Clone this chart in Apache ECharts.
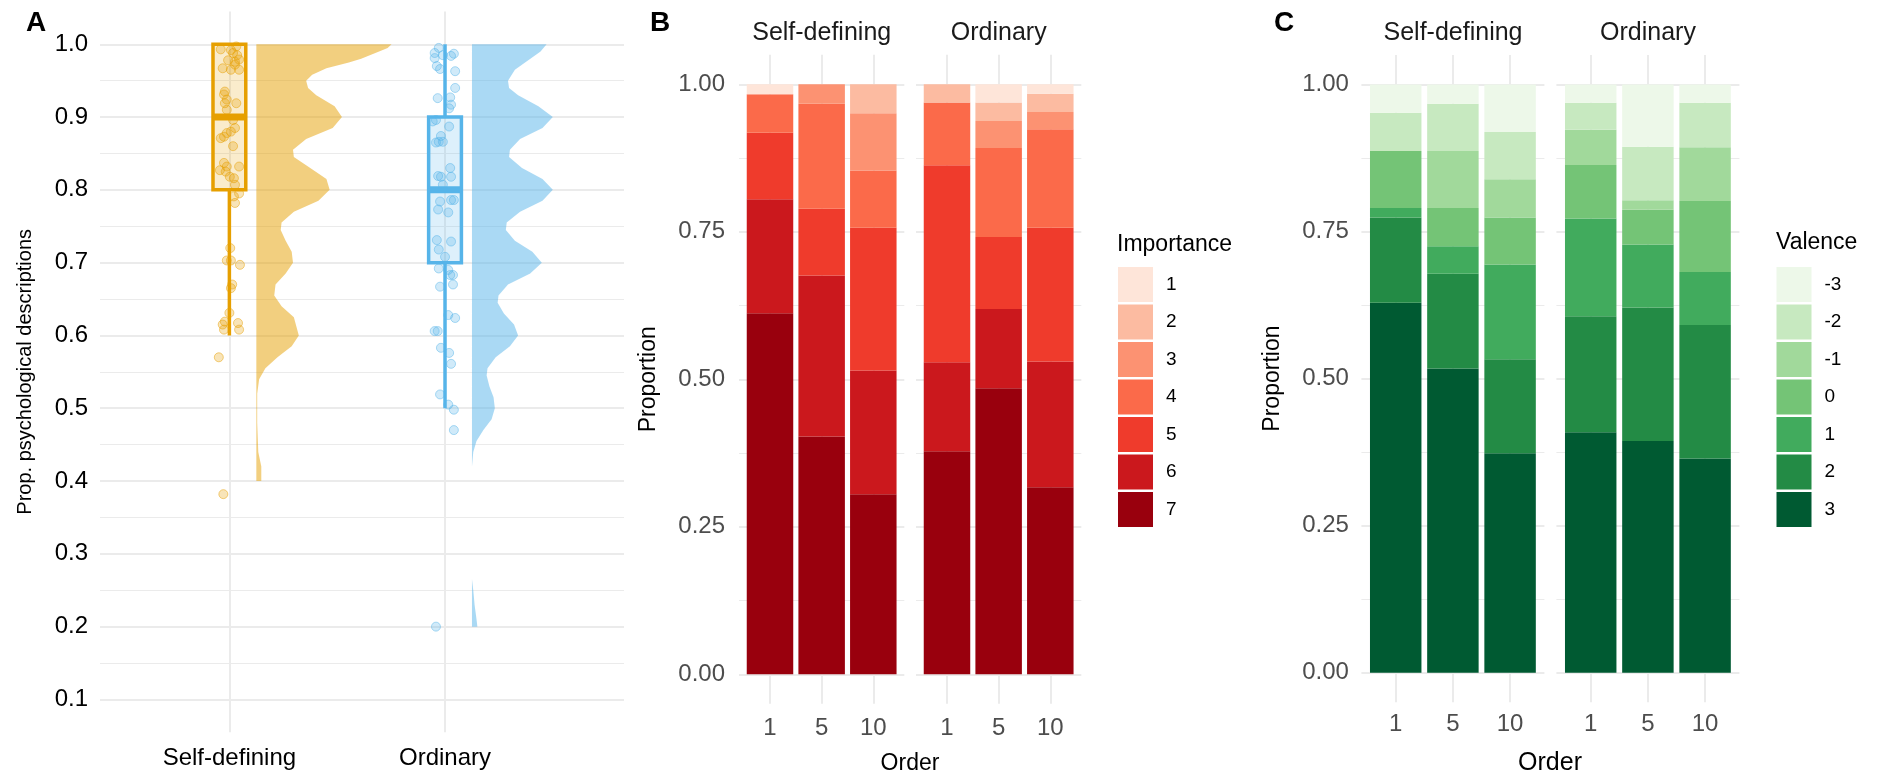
<!DOCTYPE html>
<html>
<head>
<meta charset="utf-8">
<script src="https://cdn.jsdelivr.net/npm/echarts@6/dist/echarts.min.js"></script>
<style>
html,body{margin:0;padding:0;background:#ffffff;}
#chart{width:1877px;height:779px;}
</style>
</head>
<body>
<div id="chart"></div>
<script>
// ---------------- DATA ----------------
const groups = ['Self-defining', 'Ordinary'];
const orderLabels = ['1', '5', '10'];
const propTicks = [0.1, 0.2, 0.3, 0.4, 0.5, 0.6, 0.7, 0.8, 0.9, 1.0];
const propMinorTicks = [0.15, 0.25, 0.35, 0.45, 0.55, 0.65, 0.75, 0.85, 0.95];
const shareTicks = [0, 0.25, 0.5, 0.75, 1];
const shareMinorTicks = [0.125, 0.375, 0.625, 0.875];

// box statistics: [min, q1, median, q3, max]
const selfDefBox = [0.6, 0.8, 0.9, 1.0, 1.0];
const ordinaryBox = [0.5, 0.7, 0.8, 0.9, 1.0];

// jittered observations: [jitter offset, proportion]
const selfDefPoints = [
  [-0.040,0.993],[0.007,0.992],[0.032,0.997],[0.017,0.988],[0.036,0.985],[-0.006,0.978],
  [0.026,0.976],[0.045,0.979],[-0.031,0.967],[0.007,0.965],[0.026,0.972],[0.045,0.965],
  [-0.021,0.935],[-0.025,0.931],[-0.012,0.924],[-0.021,0.919],[0.032,0.919],[-0.012,0.910],
  [0.026,0.885],[0.017,0.896],[-0.025,0.873],[-0.040,0.871],[-0.012,0.878],[0.017,0.860],
  [0.007,0.880],[-0.025,0.837],[-0.012,0.832],[-0.017,0.825],[-0.044,0.827],[0.045,0.832],
  [0.002,0.818],[0.021,0.816],[0.026,0.807],[0.045,0.795],[0.021,0.791],[0.026,0.782],
  [0.004,0.720],[-0.012,0.703],[0.007,0.703],[0.049,0.697],[0.013,0.670],[0.007,0.665],
  [0.000,0.631],[-0.021,0.619],[-0.031,0.615],[-0.025,0.608],[0.040,0.617],[0.045,0.608],
  [-0.049,0.570],[-0.028,0.382]
];
const ordinaryPoints = [
  [-0.048,0.988],[-0.029,0.995],[-0.010,0.985],[0.028,0.984],[0.041,0.987],[-0.048,0.981],
  [-0.038,0.970],[-0.023,0.966],[0.047,0.963],[0.047,0.940],[-0.034,0.926],[0.024,0.927],
  [0.028,0.917],[0.019,0.912],[-0.042,0.896],[-0.057,0.894],[0.019,0.887],[-0.019,0.874],
  [-0.029,0.866],[-0.010,0.866],[-0.042,0.865],[0.024,0.830],[-0.032,0.819],[-0.019,0.818],
  [0.028,0.818],[-0.010,0.807],[-0.023,0.784],[0.028,0.786],[0.041,0.786],[-0.032,0.773],
  [0.015,0.769],[-0.038,0.731],[-0.029,0.718],[0.028,0.729],[0.000,0.708],[-0.029,0.692],
  [0.015,0.690],[0.024,0.683],[0.037,0.683],[0.037,0.670],[-0.023,0.667],[0.015,0.628],
  [0.047,0.624],[-0.048,0.606],[-0.034,0.606],[-0.019,0.583],[0.019,0.576],[0.028,0.561],
  [-0.023,0.519],[0.015,0.505],[0.041,0.498],[0.041,0.470],[-0.042,0.200]
];

// half-violin densities: [proportion, density]
const selfDefDensity = [
  [1.000,6.27],[0.995,6.09],[0.988,5.52],[0.980,4.86],[0.975,4.29],[0.967,3.25],[0.958,2.59],
  [0.950,2.31],[0.940,2.40],[0.930,2.78],[0.915,3.63],[0.900,3.97],[0.885,3.54],[0.870,2.31],
  [0.855,1.70],[0.845,1.74],[0.830,2.50],[0.815,3.25],[0.800,3.40],[0.785,2.88],[0.770,1.74],
  [0.755,1.17],[0.745,1.13],[0.730,1.36],[0.715,1.64],[0.700,1.70],[0.685,1.36],[0.670,0.89],
  [0.655,0.83],[0.640,1.17],[0.625,1.74],[0.600,1.97],[0.585,1.64],[0.570,0.98],[0.555,0.42],
  [0.540,0.13],[0.520,0.04],[0.480,0.04],[0.440,0.09],[0.420,0.23],[0.400,0.23]
];
const ordinaryDensity = [
  [1.000,3.46],[0.990,3.18],[0.978,2.61],[0.965,1.99],[0.950,1.67],[0.940,1.72],[0.930,2.14],
  [0.915,3.08],[0.900,3.75],[0.885,3.27],[0.870,2.23],[0.855,1.76],[0.845,1.72],[0.830,2.32],
  [0.815,3.27],[0.800,3.75],[0.785,3.27],[0.770,2.23],[0.755,1.61],[0.745,1.57],[0.730,1.99],
  [0.715,2.80],[0.700,3.24],[0.685,2.70],[0.670,1.67],[0.655,1.23],[0.645,1.19],[0.630,1.48],
  [0.615,1.95],[0.600,2.14],[0.585,1.76],[0.570,1.10],[0.555,0.72],[0.545,0.68],[0.530,0.81],
  [0.515,1.00],[0.500,1.06],[0.485,0.91],[0.470,0.53],[0.455,0.21],[0.440,0.06],[0.420,0.00]
];
const ordinaryDensityLow = [
  [0.265,0.00],[0.250,0.06],[0.230,0.12],[0.210,0.21],[0.200,0.25]
];

// panel B: importance proportions, bars = [SD 1, SD 5, SD 10, Ord 1, Ord 5, Ord 10]
const importanceLevels = ['1', '2', '3', '4', '5', '6', '7'];
const importance1 = [0.017, 0.000, 0.000, 0.000, 0.031, 0.016];
const importance2 = [0.000, 0.000, 0.049, 0.031, 0.031, 0.031];
const importance3 = [0.000, 0.033, 0.097, 0.000, 0.046, 0.029];
const importance4 = [0.065, 0.178, 0.097, 0.106, 0.151, 0.167];
const importance5 = [0.113, 0.113, 0.242, 0.334, 0.122, 0.227];
const importance6 = [0.193, 0.273, 0.210, 0.151, 0.134, 0.213];
const importance7 = [0.612, 0.403, 0.305, 0.378, 0.485, 0.317];

// panel C: valence proportions
const valenceLevels = ['-3', '-2', '-1', '0', '1', '2', '3'];
const valenceM3 = [0.048, 0.033, 0.081, 0.031, 0.106, 0.031];
const valenceM2 = [0.065, 0.080, 0.080, 0.046, 0.091, 0.076];
const valenceM1 = [0.000, 0.097, 0.065, 0.060, 0.016, 0.091];
const valence0  = [0.097, 0.065, 0.080, 0.091, 0.059, 0.121];
const valenceP1 = [0.016, 0.047, 0.161, 0.166, 0.107, 0.090];
const valenceP2 = [0.145, 0.161, 0.160, 0.197, 0.227, 0.227];
const valenceP3 = [0.629, 0.517, 0.373, 0.409, 0.394, 0.364];

// ---------------- STYLE ----------------
const FONT = '"Liberation Sans", Arial, Helvetica, sans-serif';
const GRID_COLOR = '#EBEBEB';
const ORANGE = '#E69F00';
const BLUE = '#56B4E9';
const impColors = ['#FEE5D9','#FCBBA1','#FC9272','#FB6A4A','#EF3B2C','#CB181D','#99000D'];
const valColors = ['#EDF8E9','#C7E9C0','#A1D99B','#74C476','#41AB5D','#238B45','#005A32'];
const BAR_HALF = 0.45;
const BOX_HALF = 0.076;
const VIOLIN_OFFSET = 0.125;
const DENS_UNIT = 0.1;

function rgba(hex, a) {
  const n = parseInt(hex.slice(1), 16);
  return 'rgba(' + ((n >> 16) & 255) + ',' + ((n >> 8) & 255) + ',' + (n & 255) + ',' + a + ')';
}

const chart = echarts.init(document.getElementById('chart'), null, {renderer: 'canvas', width: 1877, height: 779});

const grids = [
  {left: 100, top: 11.5, width: 524, height: 720.7},
  {left: 739, top: 54.8, width: 165.3, height: 649},
  {left: 916, top: 54.8, width: 165.3, height: 649},
  {left: 1361.4, top: 55, width: 183, height: 647.2},
  {left: 1556.4, top: 55, width: 183, height: 647.2}
];

function xAxisDef(gi, min, max, vals, labels, fs, color, margin) {
  return {
    type: 'value', gridIndex: gi, min: min, max: max,
    axisLine: {show: false},
    axisTick: {show: false, customValues: vals},
    axisLabel: {customValues: vals, fontSize: fs, color: color, fontFamily: FONT, margin: margin,
      formatter: v => labels[Math.round(v) - 1]},
    splitLine: {show: true, lineStyle: {color: GRID_COLOR, width: 2}}
  };
}
function yAxisDef(gi, min, max, vals, opts) {
  opts = opts || {};
  const ax = {
    type: 'value', gridIndex: gi, min: min, max: max, position: 'left',
    axisLine: {show: false},
    axisTick: {show: false, customValues: vals},
    axisLabel: {show: !!opts.labels, customValues: vals, fontSize: opts.fs || 24, color: opts.color || '#4D4D4D',
      fontFamily: FONT, margin: opts.margin || 12, formatter: v => v.toFixed(opts.digits || 2)},
    splitLine: {show: true, lineStyle: {color: GRID_COLOR, width: opts.minor ? 1 : 2}}
  };
  if (opts.name) {
    ax.name = opts.name; ax.nameLocation = 'middle'; ax.nameGap = opts.nameGap;
    ax.nameTextStyle = {fontSize: opts.nameFs, color: '#000', fontFamily: FONT};
  }
  return ax;
}

const xAxes = [
  xAxisDef(0, 0.4, 2.83, [1, 2], groups, 24, '#000', 14),
  xAxisDef(1, 0.4, 3.6, [1, 2, 3], orderLabels, 24, '#4D4D4D', 12.5),
  xAxisDef(2, 0.4, 3.6, [1, 2, 3], orderLabels, 24, '#4D4D4D', 12.5),
  xAxisDef(3, 0.4, 3.6, [1, 2, 3], orderLabels, 24, '#4D4D4D', 10.5),
  xAxisDef(4, 0.4, 3.6, [1, 2, 3], orderLabels, 24, '#4D4D4D', 10.5)
];
const yAxes = [
  yAxisDef(0, 0.055, 1.045, propTicks, {labels: true, digits: 1, color: '#000', fs: 24, margin: 12,
    name: 'Prop. psychological descriptions', nameGap: 65, nameFs: 20}),
  yAxisDef(0, 0.055, 1.045, propMinorTicks, {minor: true}),
  yAxisDef(1, -0.05, 1.05, shareTicks, {labels: true, digits: 2, margin: 14, name: 'Proportion', nameGap: 79, nameFs: 23}),
  yAxisDef(1, -0.05, 1.05, shareMinorTicks, {minor: true}),
  yAxisDef(2, -0.05, 1.05, shareTicks, {}),
  yAxisDef(2, -0.05, 1.05, shareMinorTicks, {minor: true}),
  yAxisDef(3, -0.05, 1.05, shareTicks, {labels: true, digits: 2, margin: 12.5, name: 'Proportion', nameGap: 77, nameFs: 23}),
  yAxisDef(3, -0.05, 1.05, shareMinorTicks, {minor: true}),
  yAxisDef(4, -0.05, 1.05, shareTicks, {}),
  yAxisDef(4, -0.05, 1.05, shareMinorTicks, {minor: true})
];

// ---------- panel A series ----------
function densitySeries(segments, cat, color) {
  return {
    type: 'custom', xAxisIndex: 0, yAxisIndex: 0, silent: true, z: 2,
    data: [[cat]], encode: {x: 0},
    renderItem: (params, api) => {
      const base = api.value(0) + VIOLIN_OFFSET;
      const children = segments.map(seg => {
        const pts = [api.coord([base, seg[0][0]])];
        seg.forEach(d => pts.push(api.coord([base + d[1] * DENS_UNIT, d[0]])));
        pts.push(api.coord([base, seg[seg.length - 1][0]]));
        return {type: 'polygon', shape: {points: pts}, style: {fill: rgba(color, 0.5)}};
      });
      return {type: 'group', children: children};
    }
  };
}
function pointSeries(points, cat, color) {
  return {
    type: 'scatter', xAxisIndex: 0, yAxisIndex: 0, silent: true, z: 3,
    symbol: 'circle', symbolSize: 9,
    itemStyle: {color: rgba(color, 0.35), borderColor: rgba(color, 0.6), borderWidth: 1},
    data: points.map(p => [cat + p[0], p[1]])
  };
}
function boxSeries(stats, cat, color) {
  return {
    type: 'custom', xAxisIndex: 0, yAxisIndex: 0, silent: true, z: 4,
    data: [[cat].concat(stats)], encode: {x: 0, y: [1, 2, 3, 4, 5]},
    renderItem: (params, api) => {
      const x = api.value(0);
      const mn = api.value(1), q1 = api.value(2), md = api.value(3), q3 = api.value(4), mx = api.value(5);
      const c = v => api.coord([x, v]);
      const tl = api.coord([x - BOX_HALF, q3]);
      const br = api.coord([x + BOX_HALF, q1]);
      const ml = api.coord([x - BOX_HALF, md]);
      const mr = api.coord([x + BOX_HALF, md]);
      const lw = 3.5;
      const children = [];
      if (mx > q3) children.push({type: 'line', shape: {x1: c(mx)[0], y1: c(mx)[1], x2: c(q3)[0], y2: c(q3)[1]}, style: {stroke: color, lineWidth: lw}});
      if (mn < q1) children.push({type: 'line', shape: {x1: c(mn)[0], y1: c(mn)[1], x2: c(q1)[0], y2: c(q1)[1]}, style: {stroke: color, lineWidth: lw}});
      children.push({type: 'rect', shape: {x: tl[0], y: tl[1], width: br[0] - tl[0], height: br[1] - tl[1]},
        style: {fill: rgba(color, 0.2), stroke: color, lineWidth: lw}});
      children.push({type: 'line', shape: {x1: ml[0], y1: ml[1], x2: mr[0], y2: mr[1]}, style: {stroke: color, lineWidth: 7}});
      return {type: 'group', children: children};
    }
  };
}

// ---------- panels B / C series ----------
function barRender(params, api) {
  const x = api.value(0), b = api.value(1), t = api.value(2);
  if (t - b <= 0) return null;
  const p0 = api.coord([x - BAR_HALF, t]);
  const p1 = api.coord([x + BAR_HALF, b]);
  return {type: 'rect', shape: {x: p0[0], y: p0[1], width: p1[0] - p0[0], height: p1[1] - p0[1]},
    style: {fill: api.visual('color')}};
}
function stackedBars(levels, values, colors, prefix, xIdx, yIdx) {
  const out = [];
  for (let p = 0; p < 2; p++) {
    const totals = [0, 0, 0];
    for (let j = 0; j < 3; j++) values.forEach(arr => { totals[j] += arr[p * 3 + j]; });
    const base = [0, 0, 0];
    for (let li = levels.length - 1; li >= 0; li--) {
      const data = [];
      for (let j = 0; j < 3; j++) {
        const v = values[li][p * 3 + j] / totals[j];
        data.push([j + 1, base[j], base[j] + v]);
        base[j] += v;
      }
      out.push({type: 'custom', name: prefix + levels[li], xAxisIndex: xIdx[p], yAxisIndex: yIdx[p],
        silent: true, z: 2, itemStyle: {color: colors[li]}, data: data,
        encode: {x: 0, y: [1, 2]}, renderItem: barRender});
    }
  }
  return out;
}

const importanceValues = [importance1, importance2, importance3, importance4, importance5, importance6, importance7];
const valenceValues = [valenceM3, valenceM2, valenceM1, valence0, valenceP1, valenceP2, valenceP3];

const series = [
  densitySeries([selfDefDensity], 1, ORANGE),
  densitySeries([ordinaryDensity, ordinaryDensityLow], 2, BLUE),
  pointSeries(selfDefPoints, 1, ORANGE),
  pointSeries(ordinaryPoints, 2, BLUE),
  boxSeries(selfDefBox, 1, ORANGE),
  boxSeries(ordinaryBox, 2, BLUE)
].concat(
  stackedBars(importanceLevels, importanceValues, impColors, 'imp_', [1, 2], [2, 4]),
  stackedBars(valenceLevels, valenceValues, valColors, 'val_', [3, 4], [6, 8])
);

function legendDef(left, levels, prefix) {
  return {
    orient: 'vertical', left: left, top: 267, padding: 0,
    itemWidth: 35, itemHeight: 35, itemGap: 2.5, icon: 'rect', selectedMode: false,
    textStyle: {fontSize: 19, color: '#000', fontFamily: FONT, padding: [0, 0, 0, 8]},
    formatter: name => name.slice(prefix.length),
    data: levels.map(l => prefix + l)
  };
}

function txt(text, x, y, size, opts) {
  opts = opts || {};
  return {type: 'text', x: x, y: y, silent: true,
    style: {text: text, font: (opts.bold ? 'bold ' : '') + size + 'px ' + FONT, fill: opts.color || '#000',
      textAlign: opts.align || 'center', align: opts.align || 'center',
      textVerticalAlign: 'middle', verticalAlign: 'middle'}};
}

const graphics = [
  txt('A', 26, 23, 28, {bold: true, align: 'left'}),
  txt('B', 650, 23, 28, {bold: true, align: 'left'}),
  txt('C', 1274, 23, 28, {bold: true, align: 'left'}),
  txt(groups[0], 821.7, 33, 25, {color: '#1A1A1A'}),
  txt(groups[1], 998.7, 33, 25, {color: '#1A1A1A'}),
  txt(groups[0], 1453, 33, 25, {color: '#1A1A1A'}),
  txt(groups[1], 1648, 33, 25, {color: '#1A1A1A'}),
  txt('Order', 910, 764, 23),
  txt('Order', 1550, 763, 25),
  txt('Importance', 1117, 245, 23, {align: 'left'}),
  txt('Valence', 1776, 243, 23, {align: 'left'})
];

chart.setOption({
  animation: false,
  backgroundColor: '#ffffff',
  grid: grids,
  xAxis: xAxes,
  yAxis: yAxes,
  legend: [legendDef(1118, importanceLevels, 'imp_'), legendDef(1776.5, valenceLevels, 'val_')],
  graphic: graphics,
  series: series
});
</script>
</body>
</html>
